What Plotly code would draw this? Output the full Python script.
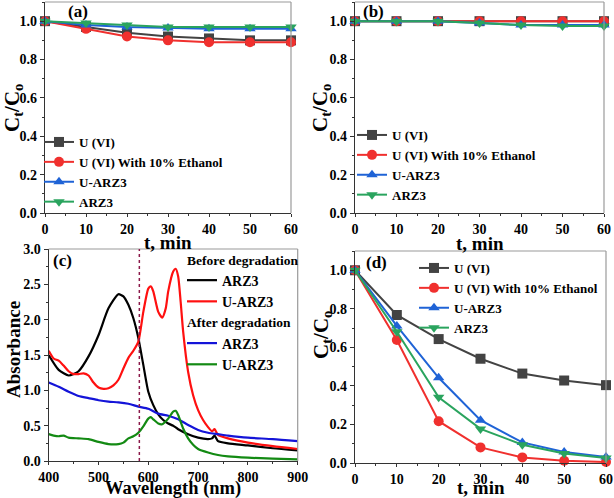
import plotly.graph_objects as go

# ---------------- data ----------------
t_min = [0, 10, 20, 30, 40, 50, 60]

# panel (a)
a_u6 = [1.00, 0.97, 0.94, 0.92, 0.91, 0.90, 0.90]
a_u6_eth = [1.00, 0.96, 0.92, 0.90, 0.89, 0.89, 0.89]
a_uarz3 = [1.00, 0.98, 0.97, 0.965, 0.96, 0.96, 0.96]
a_arz3 = [1.00, 0.99, 0.98, 0.97, 0.97, 0.97, 0.97]

# panel (b)
b_u6 = [1.00, 1.00, 1.00, 1.00, 1.00, 1.00, 1.00]
b_u6_eth = [1.00, 1.00, 1.00, 1.00, 1.00, 1.00, 1.00]
b_uarz3 = [1.00, 1.00, 1.00, 0.99, 0.98, 0.98, 0.98]
b_arz3 = [1.00, 1.00, 1.00, 0.99, 0.98, 0.975, 0.975]

# panel (d)
d_u6 = [1.00, 0.768, 0.643, 0.541, 0.464, 0.428, 0.404]
d_u6_eth = [1.00, 0.638, 0.217, 0.081, 0.029, 0.012, 0.005]
d_uarz3 = [1.00, 0.711, 0.442, 0.222, 0.107, 0.057, 0.031]
d_arz3 = [1.00, 0.681, 0.341, 0.177, 0.095, 0.049, 0.026]

series_names = ["U (VI)", "U (VI) With 10% Ethanol", "U-ARZ3", "ARZ3"]

# panel (c) spectra
wl_arz3_before = [400, 420, 440, 450, 460, 480, 500, 520, 540, 550, 560, 570, 580, 590, 600,
                  610, 620, 630, 640, 650, 660, 680, 700, 720, 728, 733, 740, 760, 800, 850, 900]
abs_arz3_before = [1.50, 1.29, 1.21, 1.23, 1.27, 1.48, 1.78, 2.16, 2.36, 2.33, 2.21, 2.02, 1.74, 1.36, 0.98,
                   0.79, 0.66, 0.58, 0.53, 0.50, 0.45, 0.38, 0.33, 0.31, 0.32, 0.36, 0.28, 0.25, 0.22, 0.18, 0.15]

wl_uarz3_before = [400, 410, 420, 430, 440, 450, 460, 470, 480, 490, 500, 510, 520, 530, 540, 550, 560,
                   570, 580, 590, 600, 605, 610, 620, 628, 635, 640, 650, 655, 660, 665, 670, 680, 690,
                   700, 710, 720, 728, 733, 740, 760, 800, 850, 900]
abs_uarz3_before = [1.56, 1.45, 1.42, 1.35, 1.27, 1.23, 1.23, 1.24, 1.21, 1.11, 1.04, 1.02, 1.03, 1.07,
                    1.15, 1.31, 1.46, 1.56, 1.69, 2.11, 2.44, 2.47, 2.40, 2.11, 2.03, 2.16, 2.40, 2.68,
                    2.72, 2.61, 2.25, 1.83, 1.26, 0.93, 0.72, 0.58, 0.48, 0.42, 0.45, 0.37, 0.32, 0.26,
                    0.21, 0.17]

wl_arz3_after = [400, 420, 440, 460, 480, 500, 520, 540, 560, 580, 600, 620, 640, 660, 680, 700,
                 720, 740, 760, 800, 850, 900]
abs_arz3_after = [1.11, 1.05, 0.98, 0.92, 0.89, 0.86, 0.84, 0.83, 0.81, 0.77, 0.74, 0.67, 0.64, 0.59,
                  0.51, 0.44, 0.40, 0.38, 0.36, 0.33, 0.31, 0.28]

wl_uarz3_after = [400, 410, 420, 430, 440, 460, 480, 500, 520, 540, 550, 560, 570, 580, 590, 600, 605,
                  610, 620, 628, 640, 650, 655, 660, 670, 680, 690, 700, 720, 740, 760, 800, 850, 900]
abs_uarz3_after = [0.38, 0.36, 0.35, 0.36, 0.33, 0.32, 0.31, 0.27, 0.24, 0.24, 0.26, 0.32, 0.35, 0.40,
                   0.49, 0.60, 0.62, 0.59, 0.53, 0.52, 0.60, 0.70, 0.71, 0.65, 0.46, 0.32, 0.23, 0.17,
                   0.12, 0.085, 0.066, 0.047, 0.033, 0.024]

divider_nm = 582

# ---------------- style ----------------
FONT = "Liberation Serif"
W, H = 614, 498
colors = ["#434343", "#f0302e", "#1f63d6", "#2aa45e"]
symbols = ["square", "circle", "triangle-up", "triangle-down"]


def px_dom_x(a, b):
    return [a / W, b / W]


def px_dom_y(top, bottom):
    return [1 - bottom / H, 1 - top / H]


fig = go.Figure()

panels = [
    ("x", "y", "legend", [a_u6, a_u6_eth, a_uarz3, a_arz3]),
    ("x2", "y2", "legend2", [b_u6, b_u6_eth, b_uarz3, b_arz3]),
    ("x4", "y4", "legend4", [d_u6, d_u6_eth, d_uarz3, d_arz3]),
]
for xa, ya, lg, ser in panels:
    for i, vals in enumerate(ser):
        fig.add_trace(go.Scatter(
            x=t_min, y=vals, mode="lines+markers", name=series_names[i],
            xaxis=xa, yaxis=ya, legend=lg, cliponaxis=False,
            line=dict(color=colors[i], width=2),
            marker=dict(symbol=symbols[i], size=10, color=colors[i], line=dict(width=0)),
        ))

spec = [
    (wl_arz3_before, abs_arz3_before, "ARZ3", "#000000", "before", "Before degradation"),
    (wl_uarz3_before, abs_uarz3_before, "U-ARZ3", "#ff1010", "before", "Before degradation"),
    (wl_arz3_after, abs_arz3_after, "ARZ3", "#1414d8", "after", "After degradation"),
    (wl_uarz3_after, abs_uarz3_after, "U-ARZ3", "#138a13", "after", "After degradation"),
]
for xs, ys, nm, col, grp, gtitle in spec:
    fig.add_trace(go.Scatter(
        x=xs, y=ys, mode="lines", name=nm, xaxis="x3", yaxis="y3", legend="legend3",
        legendgroup=grp, legendgrouptitle=dict(text=gtitle, font=dict(family=FONT, size=13.5, color="black", weight="bold")),
        line=dict(color=col, width=2.2, shape="spline", smoothing=0.6),
    ))

tickfont = dict(family=FONT, size=14, color="black", weight="bold")


def xax(dom, rng, dtick, mdtick, anchor, tl=4):
    return dict(domain=dom, range=rng, anchor=anchor, dtick=dtick, tick0=rng[0], automargin=False,
                showgrid=False, zeroline=False, showline=True, linecolor="#333333", linewidth=1.2,
                ticks="outside", ticklen=tl, tickcolor="#333333", tickfont=tickfont,
                minor=dict(ticks="outside", ticklen=2, dtick=mdtick, tickcolor="#333333", showgrid=False))


def yax(dom, rng, dtick, mdtick, anchor):
    d = xax(dom, rng, dtick, mdtick, anchor)
    d["tickformat"] = ".1f"
    return d


lay = dict(
    width=W, height=H, margin=dict(l=0, r=0, t=0, b=0, autoexpand=False),
    paper_bgcolor="white", plot_bgcolor="white", showlegend=True,
    xaxis=xax(px_dom_x(45, 291), [0, 60], 10, 5, "y", tl=3),
    yaxis=yax(px_dom_y(2, 213), [0, 1.1], 0.2, 0.1, "x"),
    xaxis2=xax(px_dom_x(355, 604), [0, 60], 10, 5, "y2", tl=3),
    yaxis2=yax(px_dom_y(2, 213), [0, 1.1], 0.2, 0.1, "x2"),
    xaxis3=xax(px_dom_x(48.7, 297.7), [400, 900], 100, 50, "y3", tl=3),
    yaxis3=yax(px_dom_y(249, 461), [0, 3], 0.5, 0.25, "x3"),
    xaxis4=xax(px_dom_x(355, 606), [0, 60], 10, 5, "y4", tl=3),
    yaxis4=yax(px_dom_y(251, 463), [0, 1.1], 0.2, 0.1, "x4"),
)

legfont = dict(family=FONT, size=13, color="black", weight="bold")


def leg(xp, ytop, size=13):
    return dict(x=xp / W, y=1 - ytop / H, xanchor="left", yanchor="top", bgcolor="rgba(0,0,0,0)",
                font=dict(legfont, size=size), tracegroupgap=0, itemclick=False)


lay["legend"] = leg(39, 127)
lay["legend2"] = leg(352, 120)
lay["legend3"] = dict(leg(182, 244, size=14), tracegroupgap=0)
lay["legend4"] = leg(414, 253)
fig.update_layout(**lay)

# frame top/right in grey
shapes = []
for xa, ya in [("x", "y"), ("x2", "y2"), ("x3", "y3"), ("x4", "y4")]:
    shapes.append(dict(type="line", xref=f"{xa} domain", yref=f"{ya} domain", x0=0, x1=1, y0=1, y1=1,
                       line=dict(color="#9a9a9a", width=1.2)))
    shapes.append(dict(type="line", xref=f"{xa} domain", yref=f"{ya} domain", x0=1, x1=1, y0=0, y1=1,
                       line=dict(color="#9a9a9a", width=1.2)))
shapes.append(dict(type="line", xref="x3", yref="y3 domain", x0=divider_nm, x1=divider_nm, y0=0, y1=1,
                   line=dict(color="#8b1a4a", width=1.5, dash="dot")))
fig.update_layout(shapes=shapes)

titlefont = dict(family=FONT, size=19, color="black", weight="bold")
ytitlefont = dict(family=FONT, size=21, color="black", weight="bold")
annots = []


def ann(text, x, y, font, angle=0):
    annots.append(dict(text=text, x=x / W, y=1 - y / H, xref="paper", yref="paper", showarrow=False,
                       font=font, textangle=angle, xanchor="center", yanchor="middle"))


ann("t, min", 168, 242, titlefont)
ann("t, min", 480, 243, titlefont)
ann("Wavelength (nm)", 173, 488, dict(titlefont, size=18.5))
ann("t, min", 481, 487, titlefont)
ann("C<sub>t</sub>/C<sub>o</sub>", 13, 108, ytitlefont, -90)
ann("C<sub>t</sub>/C<sub>o</sub>", 321, 108, ytitlefont, -90)
ann("Absorbance", 13, 350, dict(family=FONT, size=19, color="black", weight="bold"), -90)
ann("C<sub>t</sub>/C<sub>o</sub>", 322, 335, ytitlefont, -90)
pf = dict(family=FONT, size=17, color="black", weight="bold")
ann("(a)", 78, 12, pf)
ann("(b)", 373, 12, pf)
ann("(c)", 62, 260, pf)
ann("(d)", 376, 262, pf)
fig.update_layout(annotations=annots)

fig.write_html("out.html", config={"displayModeBar": False},
               post_script="document.body.style.margin='0';document.body.style.padding='0';")
